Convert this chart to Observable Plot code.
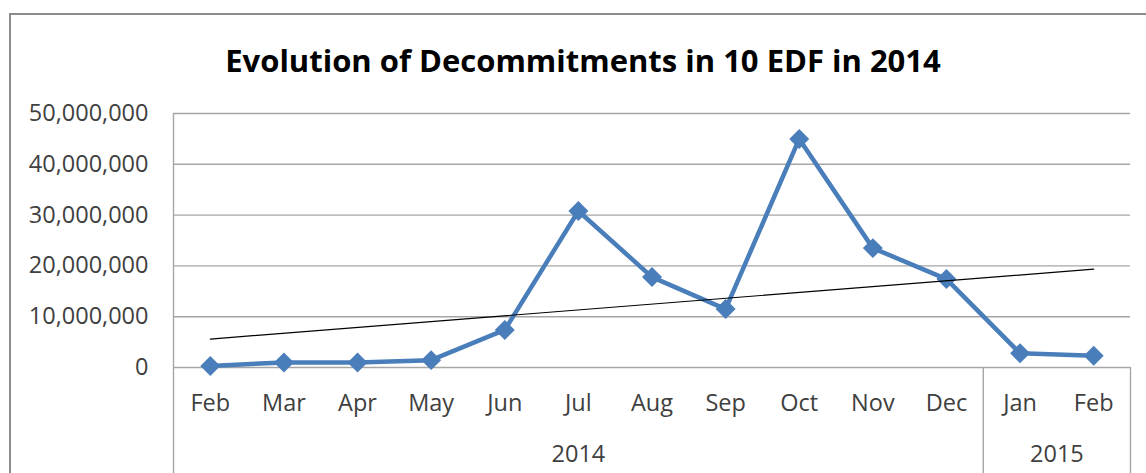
<!DOCTYPE html>
<html>
<head>
<meta charset="utf-8">
<script src="https://cdn.jsdelivr.net/npm/d3@7"></script>
<script src="https://cdn.jsdelivr.net/npm/@observablehq/plot@0.6"></script>
<style>
  html, body { margin: 0; padding: 0; background: #fff; width: 1146px; height: 473px; overflow: hidden; }
  #frame { position: absolute; left: 9px; top: 13px; width: 1300px; height: 700px; border: 2px solid #8c8c8c; box-sizing: border-box; }
  #title { position: absolute; left: 583px; top: 60px; transform: translate(-50%, -50%); white-space: nowrap;
           font-family: "Open Sans", sans-serif; font-weight: 700; font-size: 31px; color: #000; }
  #chart { position: absolute; left: 0; top: 90px; }
</style>
</head>
<body>
<div id="frame"></div>
<div id="title">Evolution of Decommitments in 10 EDF in 2014</div>
<div id="chart"></div>
<script>
const months = ["Feb", "Mar", "Apr", "May", "Jun", "Jul", "Aug", "Sep", "Oct", "Nov", "Dec", "Jan", "Feb"];
const values = [300000, 1000000, 1000000, 1450000, 7400000, 30800000, 17800000, 11500000, 45000000, 23500000, 17400000, 2800000, 2300000];
const years = ["2014", "2015"];
const yearMonthCounts = [11, 2];
const yTicks = [0, 10000000, 20000000, 30000000, 40000000, 50000000];

const data = months.map((m, i) => ({i, month: m, value: values[i]}));

// year groups derived from counts
let start = 0;
const yearGroups = years.map((y, k) => {
  const g = {year: y, start, end: start + yearMonthCounts[k] - 1};
  start += yearMonthCounts[k];
  return g;
});
const separators = yearGroups.map(g => g.end + 0.5);

const blue = "#4a7ebb";
const gray = "#a6a6a6";

const chart = Plot.plot({
  width: 1146,
  height: 383,
  marginTop: 23,
  marginBottom: 106,
  marginLeft: 173,
  marginRight: 16,
  style: {fontFamily: "'Open Sans', sans-serif", fontSize: "23.5px", color: "#404040", background: "transparent", overflow: "visible"},
  x: {type: "linear", domain: [-0.5, months.length - 0.5]},
  y: {domain: [0, yTicks[yTicks.length - 1]]},
  marks: [
    Plot.ruleY(yTicks, {stroke: gray, strokeWidth: 1.4}),
    Plot.ruleX([-0.5], {stroke: gray, strokeWidth: 1.4, insetBottom: -106}),
    Plot.ruleX(separators, {y1: 0, y2: 0, stroke: gray, strokeWidth: 1.4, insetBottom: -106}),
    Plot.axisY({ticks: yTicks, tickFormat: d3.format(","), tickSize: 0, tickPadding: 25, label: null, fill: "#404040"}),
    Plot.axisX({ticks: d3.range(months.length), tickFormat: i => months[i], tickSize: 0, tickPadding: 27, label: null, fill: "#404040"}),
    Plot.text(yearGroups, {x: g => (g.start + g.end) / 2, y: 0, text: "year", dy: 87, fill: "#404040", fontSize: 23.5}),
    Plot.line(data, {x: "i", y: "value", stroke: blue, strokeWidth: 4.5}),
    Plot.dot(data, {x: "i", y: "value", symbol: "diamond2", r: 9, fill: blue, stroke: "none"}),
    Plot.linearRegressionY(data, {x: "i", y: "value", stroke: "#000", strokeWidth: 1.2, ci: 0})
  ]
});
document.getElementById("chart").appendChild(chart);
</script>
</body>
</html>
